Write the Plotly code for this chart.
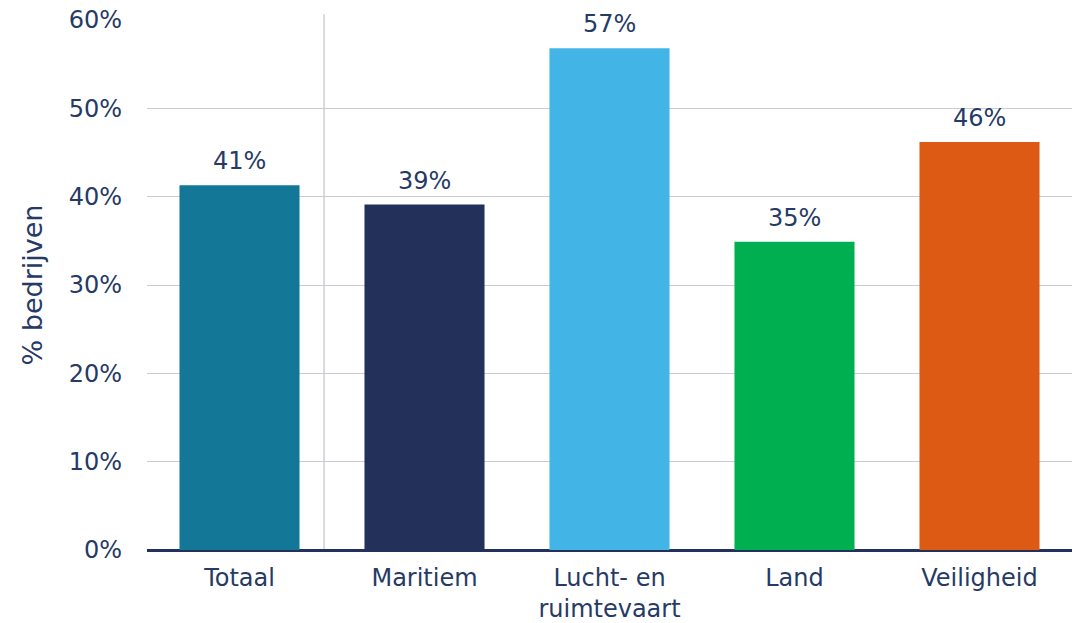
import plotly.graph_objects as go

# Share of companies per sector
categories = ["Totaal", "Maritiem", "Lucht- en<br>ruimtevaart", "Land", "Veiligheid"]
values = [41.3, 39.1, 56.8, 34.9, 46.2]
colors = ["#137897", "#22305a", "#42b4e6", "#00b050", "#dc5a13"]
y_ticks = [0, 10, 20, 30, 40, 50, 60]
y_tick_labels = [f"{v}%" for v in y_ticks]

text_color = "#263a66"
font_family = "DejaVu Sans, Verdana, sans-serif"
font_size = 24

fig = go.Figure(
    go.Bar(
        x=categories,
        y=values,
        marker=dict(color=colors, line=dict(width=0)),
        hoverinfo="skip",
    )
)

# Value labels above each bar
for cat, val in zip(categories, values):
    fig.add_annotation(
        x=cat, y=val,
        text=f"{val:.0f}%",
        showarrow=False,
        yanchor="bottom",
        yshift=8,
        font=dict(size=font_size, color=text_color, family=font_family),
    )

# Separator between the total and the individual sectors
fig.add_shape(
    type="line",
    xref="x", yref="paper",
    x0=0.457, x1=0.457, y0=0, y1=1.011,
    line=dict(color="#c4c8ce", width=1.3),
    layer="below",
)

fig.update_layout(
    width=1074,
    height=623,
    margin=dict(l=147, r=2, t=20, b=73),
    paper_bgcolor="white",
    plot_bgcolor="white",
    bargap=0.351,
    showlegend=False,
    font=dict(family=font_family, color=text_color, size=font_size),
    xaxis=dict(
        automargin=False,
        showgrid=False,
        showline=False,
        ticks="",
        tickfont=dict(size=font_size, color=text_color),
        ticklabelstandoff=11,
    ),
    yaxis=dict(
        automargin=False,
        range=[0, 60],
        tickmode="array",
        tickvals=y_ticks,
        ticktext=y_tick_labels,
        showgrid=True,
        gridcolor="#c9cdd3",
        gridwidth=1.3,
        zeroline=True,
        zerolinecolor="#22305a",
        zerolinewidth=2.5,
        showline=False,
        ticks="",
        tickfont=dict(size=font_size, color=text_color),
        ticklabelstandoff=24,
        title=dict(
            text="% bedrijven",
            font=dict(size=27, color=text_color),
            standoff=18,
        ),
    ),
)

fig.write_html("out.html")
